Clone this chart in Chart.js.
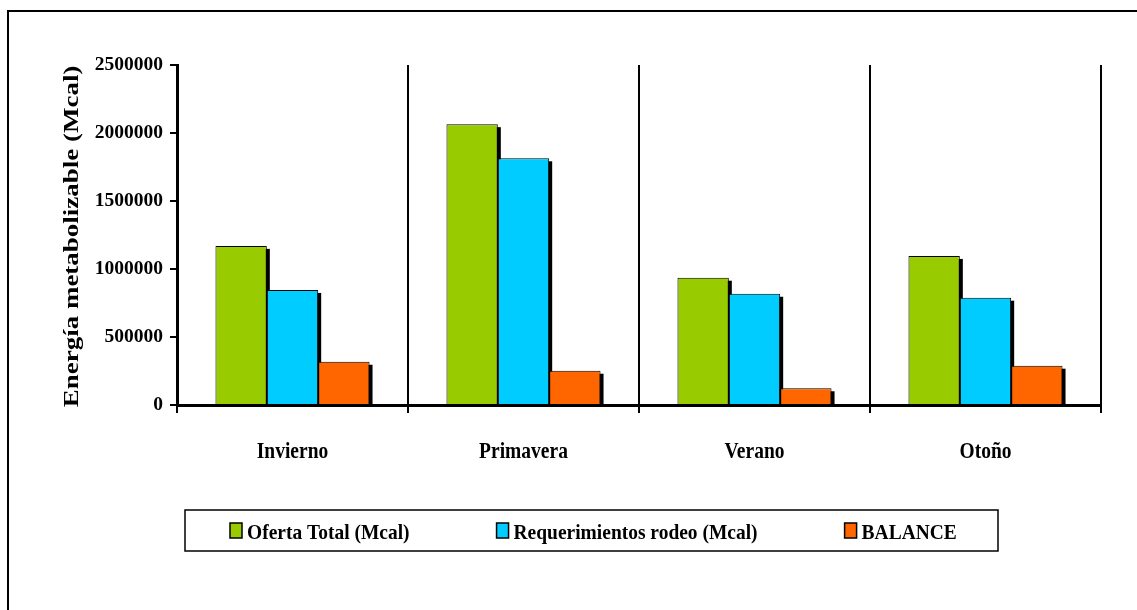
<!DOCTYPE html>
<html>
<head>
<meta charset="utf-8">
<script src="https://cdn.jsdelivr.net/npm/chart.js@4.4.1/dist/chart.umd.min.js"></script>
<style>
  html, body { margin: 0; padding: 0; background: #fff; overflow: hidden; }
  #wrap { position: absolute; left: 0; top: 0; width: 1137px; height: 610px; }
</style>
</head>
<body>
<div id="wrap"><canvas id="c" width="1137" height="610"></canvas></div>
<script>
// ---- data ----
const categories = ['Invierno', 'Primavera', 'Verano', 'Otoño'];
const seriesNames = ['Oferta Total (Mcal)', 'Requerimientos rodeo (Mcal)', 'BALANCE'];
const ofertaTotal = [1170000, 2065000, 936000, 1096000];
const requerimientos = [846000, 1814000, 818000, 789000];
const balance = [318000, 252000, 123000, 289000];
const yTickValues = [0, 500000, 1000000, 1500000, 2000000, 2500000];
const yAxisTitle = 'Energía metabolizable (Mcal)';

const SERIF = '"Times New Roman", "Liberation Serif", serif';
const colors = ['#99CC00', '#00CCFF', '#FF6600'];

// white background + outer frame
const framePlugin = {
  id: 'framePlugin',
  beforeDraw(chart) {
    const ctx = chart.ctx;
    ctx.save();
    ctx.fillStyle = '#fff';
    ctx.fillRect(0, 0, chart.width, chart.height);
    ctx.strokeStyle = '#000';
    ctx.lineWidth = 2;
    ctx.beginPath();
    ctx.moveTo(8, chart.height + 5);
    ctx.lineTo(8, 11);
    ctx.lineTo(chart.width + 5, 11);
    ctx.stroke();
    ctx.restore();
  }
};

// stretched text rendering (as in the original picture)
const stretchText = {
  id: 'stretchText',
  beforeDraw(chart) {
    const y = chart.scales.y;
    if (!y._stretchPatched) {
      const origTitle = y.drawTitle;
      y.drawTitle = function () {
        const ctx = this.ctx;
        const cy = (this.top + this.bottom) / 2 - 4;
        ctx.save();
        ctx.translate(0, cy);
        ctx.scale(1, 1.35);
        ctx.translate(0, -cy);
        origTitle.call(this);
        ctx.restore();
      };
      y._stretchPatched = true;
    }
    const x = chart.scales.x;
    if (!x._stretchPatched) {
      const origLabels = x.drawLabels;
      x.drawLabels = function (area) {
        const ctx = this.ctx;
        const cy = this.top + 8 + 27 + 11;
        ctx.save();
        ctx.translate(0, cy);
        ctx.scale(1, 1.16);
        ctx.translate(0, -cy);
        origLabels.call(this, area);
        ctx.restore();
      };
      x._stretchPatched = true;
    }
  }
};

// drop shadows behind bars
const barShadow = {
  id: 'barShadow',
  beforeDatasetsDraw(chart) {
    const ctx = chart.ctx;
    const area = chart.chartArea;
    ctx.save();
    ctx.beginPath();
    ctx.rect(area.left, 0, chart.width, area.bottom);
    ctx.clip();
    ctx.fillStyle = '#000';
    chart.data.datasets.forEach((ds, i) => {
      const meta = chart.getDatasetMeta(i);
      meta.data.forEach(bar => {
        const p = bar.getProps(['x', 'y', 'base', 'width'], true);
        const left = p.x - p.width / 2;
        ctx.fillRect(left + 3, p.y + 3, p.width, p.base - p.y);
      });
    });
    ctx.restore();
  }
};

// legend in a framed box
const legendBox = {
  id: 'legendBox',
  afterDraw(chart) {
    const ctx = chart.ctx;
    ctx.save();
    ctx.strokeStyle = '#000';
    ctx.lineWidth = 1.5;
    ctx.strokeRect(185, 510, 813, 41);
    const fontPx = 22, sx = 0.885;
    ctx.font = 'bold ' + fontPx + 'px ' + SERIF;
    ctx.textBaseline = 'alphabetic';
    ctx.textAlign = 'left';
    let x = 230;
    const baseline = 539;
    chart.data.datasets.forEach(ds => {
      ctx.fillStyle = ds.backgroundColor;
      ctx.fillRect(x, 523, 12, 15);
      ctx.lineWidth = 1.5;
      ctx.strokeStyle = '#000';
      ctx.strokeRect(x, 523, 12, 15);
      const tx = x + 17;
      const w = ctx.measureText(ds.label).width * sx;
      ctx.save();
      ctx.translate(tx, baseline);
      ctx.scale(sx, 1);
      ctx.fillStyle = '#000';
      ctx.fillText(ds.label, 0, 0);
      ctx.restore();
      x = tx + w + 87;
    });
    ctx.restore();
  }
};

const seriesValues = [ofertaTotal, requerimientos, balance];

new Chart(document.getElementById('c'), {
  type: 'bar',
  data: {
    labels: categories,
    datasets: seriesNames.map((name, i) => ({
      label: name,
      data: seriesValues[i],
      backgroundColor: colors[i],
      borderColor: '#000',
      borderWidth: 1,
      categoryPercentage: 0.667,
      barPercentage: 1.0
    }))
  },
  options: {
    responsive: false,
    animation: false,
    layout: { padding: { left: 8, right: 36, top: 65, bottom: 125 } },
    plugins: {
      legend: { display: false },
      tooltip: { enabled: false },
      title: { display: false }
    },
    scales: {
      x: {
        grid: {
          display: true,
          offset: true,
          color: '#000',
          lineWidth: 2,
          tickLength: 8,
          tickColor: '#000',
          drawOnChartArea: true
        },
        border: { display: true, color: '#000', width: 3, z: 1 },
        ticks: {
          color: '#000',
          padding: 27,
          font: { family: SERIF, size: 19.5, weight: 'bold' }
        },
        afterFit(s) { s.height = 80; }
      },
      y: {
        min: 0,
        max: 2500000,
        afterBuildTicks(s) { s.ticks = yTickValues.map(v => ({ value: v })); },
        grid: {
          drawOnChartArea: false,
          color: '#000',
          lineWidth: 2,
          tickLength: 7,
          tickColor: '#000'
        },
        border: { display: true, color: '#000', width: 3, z: 1 },
        ticks: {
          color: '#000',
          padding: 7,
          font: { family: SERIF, size: 19.5, weight: 'bold' },
          callback: v => String(v)
        },
        title: {
          display: true,
          text: yAxisTitle,
          color: '#000',
          padding: { top: 53, bottom: 0 },
          font: { family: SERIF, size: 20, weight: 'bold' }
        },
        afterFit(s) { s.width = 169; }
      }
    }
  },
  plugins: [framePlugin, stretchText, barShadow, legendBox]
});
</script>
</body>
</html>
